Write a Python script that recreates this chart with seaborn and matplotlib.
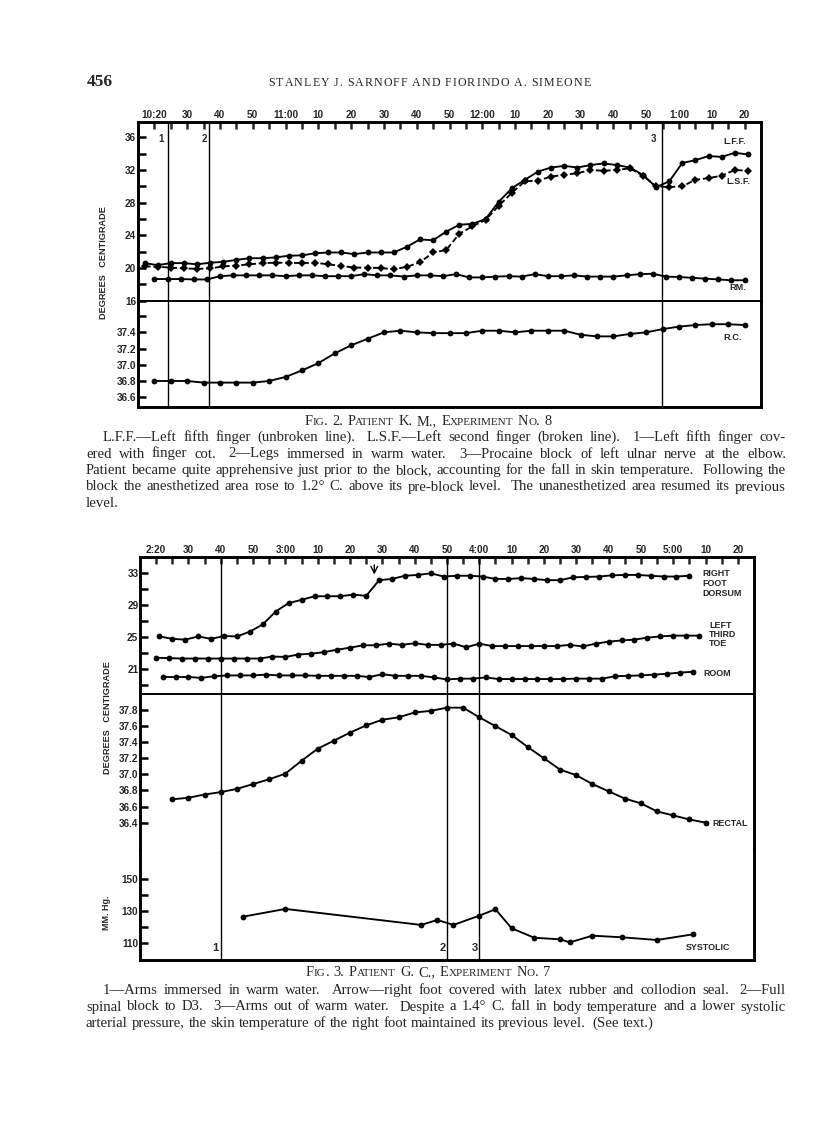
import matplotlib
matplotlib.use("Agg")
import matplotlib.pyplot as plt
from matplotlib import font_manager as fm
from matplotlib.transforms import IdentityTransform
import seaborn as sns

W, H = 816, 1130

# ---------------- Fig. 2  (minutes after 10:20) ----------------
top_tick_labels = ["10:20", "30", "40", "50", "11:00", "10", "20", "30", "40", "50",
                   "12:00", "10", "20", "30", "40", "50", "1:00", "10", "20"]

lff_min = [-3, 1, 5, 9, 13, 17, 21, 25, 29, 33, 37, 41, 45, 49, 53, 57, 61, 65, 69, 73,
           77, 81, 85, 89, 93, 97, 101, 105, 109, 113, 117, 121, 125, 129, 133, 137, 141,
           145, 149, 153, 157, 161, 165, 169, 173, 177, 181]
lff_temp = [20.6, 20.35, 20.6, 20.6, 20.45, 20.65, 20.75, 21.0, 21.2, 21.2,
            21.3, 21.5, 21.55, 21.8, 21.9, 21.9, 21.7, 21.9, 21.9, 21.9,
            22.6, 23.5, 23.4, 24.45, 25.3, 25.4, 26.0, 28.1, 29.75, 30.8,
            31.8, 32.3, 32.5, 32.3, 32.6, 32.8, 32.6, 32.3, 31.4, 29.9,
            30.6, 32.85, 33.2, 33.7, 33.6, 34.1, 33.9]
# L.S.F. read at the same times as L.F.F.
lsf_temp = [20.2, 20.15, 20.05, 19.95, 19.9, 19.95, 20.2, 20.3, 20.45, 20.6,
            20.65, 20.65, 20.6, 20.65, 20.45, 20.25, 20.05, 20.05, 20.0, 19.85,
            20.15, 20.7, 21.9, 22.2, 24.2, 25.1, 25.9, 27.6, 29.2, 30.6,
            30.7, 31.2, 31.4, 31.6, 32.0, 31.9, 32.0, 32.2, 31.3, 30.0,
            29.9, 30.0, 30.8, 31.0, 31.3, 32.0, 31.9]

rm_min = [0, 4, 8, 12, 16, 20, 24, 28, 32, 36, 40, 44, 48, 52, 56, 60, 64, 68, 72, 76,
          80, 84, 88, 92, 96, 100, 104, 108, 112, 116, 120, 124, 128, 132, 136, 140,
          144, 148, 152, 156, 160, 164, 168, 172, 176, 180]
rm_temp = [18.65, 18.65, 18.65, 18.6, 18.6, 19.0, 19.1, 19.1, 19.1, 19.1,
           19.0, 19.1, 19.1, 19.0, 19.0, 19.0, 19.25, 19.1, 19.1, 18.95,
           19.1, 19.1, 19.0, 19.25, 18.85, 18.85, 18.95, 19.0, 18.95, 19.25,
           19.0, 19.0, 19.1, 18.95, 18.95, 18.95, 19.1, 19.25, 19.3, 18.95,
           18.9, 18.8, 18.7, 18.6, 18.5, 18.5]

rc_min = [0, 5, 10, 15, 20, 25, 30, 35, 40, 45, 50, 55, 60, 65, 70, 75, 80, 85, 90,
          95, 100, 105, 110, 115, 120, 125, 130, 135, 140, 145, 150, 155, 160, 165,
          170, 175, 180]
rc_temp = [36.80, 36.80, 36.80, 36.78, 36.78, 36.78, 36.78, 36.80, 36.85, 36.93,
           37.02, 37.14, 37.24, 37.32, 37.40, 37.42, 37.40, 37.39, 37.39, 37.39,
           37.42, 37.42, 37.40, 37.42, 37.42, 37.42, 37.37, 37.35, 37.35, 37.38,
           37.40, 37.44, 37.47, 37.49, 37.50, 37.50, 37.49]

top_events = [4, 16.7, 154.7]

# ---------------- Fig. 3  (minutes after 2:20) ----------------
bot_tick_labels = ["2:20", "30", "40", "50", "3:00", "10", "20", "30", "40", "50",
                   "4:00", "10", "20", "30", "40", "50", "5:00", "10", "20"]

rfd_min = [1, 5, 9, 13, 17, 21, 25, 29, 33, 37, 41, 45, 49, 53, 57, 61, 65, 69, 73, 77,
           81, 85, 89, 93, 97, 101, 105, 109, 113, 117, 121, 125, 129, 133, 137, 141,
           145, 149, 153, 157, 161, 165]
rfd_temp = [25.05, 24.75, 24.65, 25.05, 24.75, 25.1, 25.05, 25.65, 26.55, 28.15,
            29.2, 29.6, 30.05, 30.05, 30.05, 30.25, 30.1, 32.05, 32.2, 32.6,
            32.7, 32.9, 32.5, 32.6, 32.6, 32.5, 32.2, 32.2, 32.3, 32.2,
            32.05, 32.05, 32.4, 32.45, 32.5, 32.65, 32.7, 32.7, 32.6, 32.5,
            32.5, 32.6]

ltt_min = [0, 4, 8, 12, 16, 20, 24, 28, 32, 36, 40, 44, 48, 52, 56, 60, 64, 68, 72, 76,
           80, 84, 88, 92, 96, 100, 104, 108, 112, 116, 120, 124, 128, 132, 136, 140,
           144, 148, 152, 156, 160, 164, 168]
ltt_temp = [22.4, 22.35, 22.3, 22.3, 22.3, 22.3, 22.3, 22.3, 22.3, 22.55,
            22.5, 22.8, 22.9, 23.1, 23.4, 23.65, 23.95, 23.95, 24.15, 24.0,
            24.2, 24.0, 24.0, 24.15, 23.7, 24.15, 23.85, 23.85, 23.85, 23.85,
            23.85, 23.85, 24.0, 23.8, 24.15, 24.4, 24.55, 24.65, 24.9, 25.05,
            25.15, 25.15, 25.15]

room_min = [2, 6, 10, 14, 18, 22, 26, 30, 34, 38, 42, 46, 50, 54, 58, 62, 66, 70, 74, 78,
            82, 86, 90, 94, 98, 102, 106, 110, 114, 118, 122, 126, 130, 134, 138, 142,
            146, 150, 154, 158, 162, 166]
room_temp = [20.0, 20.0, 20.0, 19.9, 20.1, 20.2, 20.2, 20.2, 20.3, 20.2,
             20.2, 20.2, 20.15, 20.15, 20.15, 20.15, 20.0, 20.35, 20.15, 20.15,
             20.15, 19.95, 19.7, 19.8, 19.8, 19.95, 19.75, 19.75, 19.75, 19.75,
             19.75, 19.75, 19.8, 19.8, 19.8, 20.1, 20.15, 20.2, 20.3, 20.4,
             20.55, 20.65]

rectal_min = [5, 10, 15, 20, 25, 30, 35, 40, 45, 50, 55, 60, 65, 70, 75, 80, 85, 90, 95,
              100, 105, 110, 115, 120, 125, 130, 135, 140, 145, 150, 155, 160, 165, 170]
rectal_temp = [36.69, 36.71, 36.75, 36.78, 36.82, 36.88, 36.94, 37.01, 37.17, 37.32,
               37.42, 37.52, 37.61, 37.68, 37.71, 37.77, 37.79, 37.83, 37.83, 37.71,
               37.60, 37.49, 37.34, 37.20, 37.06, 36.99, 36.88, 36.79, 36.70, 36.64,
               36.54, 36.49, 36.44, 36.40]

sys_min = [27, 40, 82, 87, 92, 100, 105, 110, 117, 125, 128, 135, 144, 155, 166]
sys_mmhg = [126.7, 131.5, 121.5, 124.6, 121.5, 127.3, 131.3, 119.4, 113.5, 112.5,
            110.6, 114.8, 113.8, 112.1, 115.6]

bot_events = [20, 90, 100]
arrow_min = 67.5

# ---------------- fonts / style ----------------
sns.set_theme(style="white")
installed = {f.name for f in fm.fontManager.ttflist}
narrow = "Liberation Sans Narrow" if "Liberation Sans Narrow" in installed else "Liberation Sans"
serif = "Liberation Serif"
plt.rcParams["font.family"] = [narrow, "DejaVu Sans"]

fig = plt.figure(figsize=(W / 100, H / 100), dpi=100)
fig.patch.set_facecolor("white")


def box(x0, y0, x1, y1):
    ax = fig.add_axes([x0 / W, 1 - y1 / H, (x1 - x0) / W, (y1 - y0) / H])
    ax.set_facecolor("none")
    for s in ax.spines.values():
        s.set_color("black")
        s.set_linewidth(2.1)
        s.set_capstyle("projecting")
    ax.set_xlim(-5, 185)
    ax.tick_params(axis="x", which="both", bottom=False, top=False,
                   labelbottom=False, labeltop=False)
    return ax


def trace(ax, x, y, dashed=False):
    sns.lineplot(x=x, y=y, ax=ax, estimator=None, sort=False, color="black",
                 linewidth=1.35, linestyle=(0, (3.2, 1.5)) if dashed else "-",
                 marker="D" if dashed else "o", markersize=3.6 if dashed else 4.2,
                 markeredgewidth=0)


def yaxis(ax, lo, hi, major, labels, minor=()):
    ax.set_ylim(lo, hi)
    ax.set_yticks(major)
    ax.set_yticklabels(labels, fontweight="bold", fontsize=7.2, family=narrow)
    ax.set_yticks(list(minor), minor=True)
    ax.tick_params(axis="y", which="both", left=True, right=False, direction="in",
                   length=5.5, width=1.8, pad=1.2, color="black")
    ax.set_xlabel("")
    ax.set_ylabel("")


def xaxis_top(ax, labels):
    ax.set_xticks([10 * i for i in range(len(labels))])
    ax.set_xticklabels(labels, fontweight="bold", fontsize=7.2, family=narrow)
    ax.set_xticks([10 * i + 5 for i in range(len(labels) - 1)], minor=True)
    ax.tick_params(axis="x", which="both", top=True, labeltop=True, bottom=False,
                   labelbottom=False, direction="in", length=4.8, width=1.8, pad=1.2)


def label(x, y, s, size=6.3, ha="left", va="center", **kw):
    fig.text(x / W, 1 - y / H, s, fontsize=size, ha=ha, va=va, fontweight="bold",
             family=narrow, **kw)


# ---------------- Fig. 2 ----------------
t1 = box(138, 122, 761, 300.7)
t2 = box(138, 300.7, 761, 406.7)
t1.spines["bottom"].set_linewidth(1.4)
t2.spines["top"].set_visible(False)

trace(t1, lff_min, lff_temp)
trace(t1, lff_min, lsf_temp, dashed=True)
trace(t1, rm_min, rm_temp)
trace(t2, rc_min, rc_temp)

yaxis(t1, 16, 37.87, [16, 20, 24, 28, 32, 36], ["16", "20", "24", "28", "32", "36"],
      [18, 22, 26, 30, 34])
yaxis(t2, 36.483, 37.79, [36.6, 36.8, 37.0, 37.2, 37.4],
      ["36.6", "36.8", "37.0", "37.2", "37.4"], [37.6])
xaxis_top(t1, top_tick_labels)
for ax in (t1, t2):
    ax.set_xlim(-5, 185)
    for ev in top_events:
        ax.axvline(ev, color="black", linewidth=1.0)

for ev_x, name in zip([161.5, 204, 653], ["1", "2", "3"]):
    label(ev_x, 139, name, size=7.0, ha="center")
label(723, 141, "L.F.F.", size=6.6)
label(726, 181, "L.S.F.", size=6.6)
label(729, 288, "RM.", size=6.6)
label(723, 337, "R.C.", size=6.6)
label(104, 263, "DEGREES   CENTIGRADE", size=6.6, ha="center", rotation=90)

# ---------------- Fig. 3 ----------------
b1 = box(140, 557, 754, 694)
b2 = box(140, 694, 754, 850)
b3 = box(140, 850, 754, 960)
b1.spines["bottom"].set_linewidth(1.4)
b2.spines["top"].set_visible(False)
b2.spines["bottom"].set_visible(False)
b3.spines["top"].set_visible(False)

trace(b1, rfd_min, rfd_temp)
trace(b1, ltt_min, ltt_temp)
trace(b1, room_min, room_temp)
trace(b2, rectal_min, rectal_temp)
trace(b3, sys_min, sys_mmhg)

yaxis(b1, 17.89, 34.93, [21, 25, 29, 33], ["21", "25", "29", "33"], [19, 23, 27, 31])
yaxis(b2, 36.06, 38.0, [36.4, 36.6, 36.8, 37.0, 37.2, 37.4, 37.6, 37.8],
      ["36.4", "36.6", "36.8", "37.0", "37.2", "37.4", "37.6", "37.8"])
yaxis(b3, 99.6, 168.3, [110, 130, 150], ["110", "130", "150"], [120, 140])
xaxis_top(b1, bot_tick_labels)
for ax in (b1, b2, b3):
    ax.set_xlim(-5, 185)
    for ev in bot_events:
        ax.axvline(ev, color="black", linewidth=1.0)

b1.annotate("", xy=(arrow_min, 32.4), xytext=(arrow_min, 34.3),
            arrowprops=dict(arrowstyle="->", lw=1.0, color="black"))

for ev_x, name in zip([215, 443, 475], ["1", "2", "3"]):
    label(ev_x, 948, name, size=8.0, ha="center")
for i, s in enumerate(["RIGHT", "FOOT", "DORSUM"]):
    label(702, 574 + 10 * i, s, size=6.4)
for i, s in enumerate(["LEFT", "THIRD", "TOE"]):
    label(709, 625 + 9.5 * i, s, size=6.4)
label(703, 673, "ROOM", size=6.4)
label(712, 823, "RECTAL", size=6.4)
label(686, 947, "SYSTOLIC", size=6.4)
label(107, 718, "DEGREES   CENTIGRADE", size=6.6, ha="center", rotation=90)
label(106, 913, "MM. Hg.", size=6.4, ha="center", rotation=90)

# ---------------- page text ----------------
renderer = fig.canvas.get_renderer()


def caps_line(xc, base, text, big, small, track=0.0):
    arts, x = [], 0.0
    space = big * 0.3 * 100 / 72
    for word in text.split():
        runs, cur, low = [], "", None
        for ch in word:
            is_low = ch.islower()
            if low is not None and is_low != low:
                runs.append((cur, low))
                cur = ""
            cur += ch
            low = is_low
        runs.append((cur, low))
        for s, lw in runs:
            for ch in (s if track else [s]):
                t = fig.text(0, 0, ch.upper(), fontsize=small if lw else big,
                             family=serif, ha="left", va="baseline",
                             transform=IdentityTransform())
                arts.append((t, x))
                x += t.get_window_extent(renderer).width + track
        x += space
    x -= space
    x0 = xc - x / 2
    for t, off in arts:
        t.set_position((x0 + off, H - base))


def para_line(x0, x1, base, text, size=10.6, justify=True):
    words = text.split()
    arts = [fig.text(0, 0, w, fontsize=size, family=serif, ha="left", va="baseline",
                     transform=IdentityTransform()) for w in words]
    widths = [a.get_window_extent(renderer).width for a in arts]
    units = [1.8 if (w.endswith(".") or w.endswith(")")) and len(w) > 2 else 1.0
             for w in words[:-1]]
    if justify and len(words) > 1:
        gap = (x1 - x0 - sum(widths)) / sum(units)
    else:
        gap = size * 0.26 * 100 / 72
    x = x0
    for i, (a, w) in enumerate(zip(arts, widths)):
        a.set_position((x, H - base))
        if i < len(units):
            x += w + gap * units[i]


fig.text(113 / W, 1 - 86 / H, "456", fontsize=12.5, fontweight="bold", family=serif,
         ha="right", va="baseline")
caps_line(430, 86, "STANLEY J. SARNOFF AND FIORINDO A. SIMEONE", 8.6, 8.6, track=1.1)

caps_line(428, 425, "Fig. 2.  Patient K. M., Experiment No. 8", 10.4, 8.0)
top_caption = [
    "L.F.F.\u2014Left fifth finger (unbroken line).  L.S.F.\u2014Left second finger (broken line).  1\u2014Left fifth finger cov-",
    "ered with finger cot.  2\u2014Legs immersed in warm water.  3\u2014Procaine block of left ulnar nerve at the elbow.",
    "Patient became quite apprehensive just prior to the block, accounting for the fall in skin temperature.  Following the",
    "block the anesthetized area rose to 1.2\u00b0 C. above its pre-block level.  The unanesthetized area resumed its previous",
    "level.",
]
for i, line in enumerate(top_caption):
    para_line(103 if i == 0 else 86, 786, 441 + 16.5 * i, line, justify=i < 4)

caps_line(428, 976, "Fig. 3.  Patient G. C., Experiment No. 7", 10.4, 8.0)
bot_caption = [
    "1\u2014Arms immersed in warm water.  Arrow\u2014right foot covered with latex rubber and collodion seal.  2\u2014Full",
    "spinal block to D3.  3\u2014Arms out of warm water.  Despite a 1.4\u00b0 C. fall in body temperature and a lower systolic",
    "arterial pressure, the skin temperature of the right foot maintained its previous level.  (See text.)",
]
for i, line in enumerate(bot_caption):
    para_line(103 if i == 0 else 86, 786, 994 + 16.5 * i, line, justify=i < 2)

fig.savefig("out.png", dpi=100, facecolor="white")
